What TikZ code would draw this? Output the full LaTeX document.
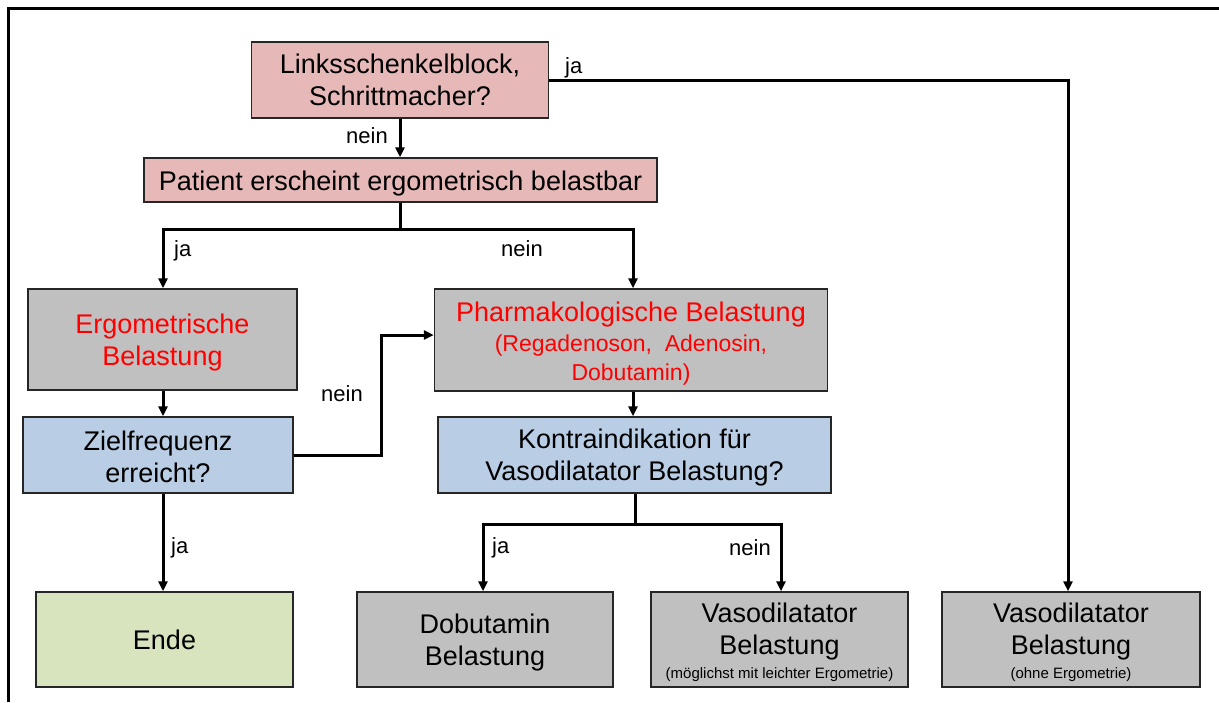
\documentclass[tikz,border=0pt]{standalone}
\usepackage{fontspec}
\setmainfont{Liberation Sans}
\usetikzlibrary{arrows.meta}
\definecolor{pinkfill}{HTML}{E6B9B8}
\definecolor{grayfill}{HTML}{C0C0C0}
\definecolor{bluefill}{HTML}{B9CDE5}
\definecolor{greenfill}{HTML}{D7E4BD}
\definecolor{redtext}{HTML}{FF0000}
\newcommand{\bigtxt}{\fontsize{27}{32}\selectfont}
\newcommand{\subtxt}{\fontsize{23}{29}\selectfont}
\newcommand{\smalltxt}{\fontsize{15}{18}\selectfont}
\newcommand{\dn}[1]{\rule{0pt}{#1pt}}
\tikzset{
  box/.style={draw=black!85, line width=1.5pt, inner sep=0pt, align=center,
    font=\bigtxt},
  pinkbox/.style={box, fill=pinkfill},
  graybox/.style={box, fill=grayfill},
  bluebox/.style={box, fill=bluefill},
  greenbox/.style={box, fill=greenfill},
  conn/.style={draw=black, line width=3pt},
  arr/.style={conn, -{Triangle[length=10pt,width=9pt]}},
  lab/.style={font=\fontsize{22}{26}\selectfont, inner sep=0pt}
}
\begin{document}
\begin{tikzpicture}[x=1pt,y=-1pt]
\useasboundingbox (0,0) rectangle (1219,702);
\draw[line width=3pt] (8,702) -- (8,8) -- (1219,8);

\node[pinkbox, minimum width=297pt, minimum height=76pt] (b1) at (400,80)
  {Linksschenkelblock,\\Schrittmacher?};
\node[pinkbox, minimum width=513pt, minimum height=44pt] (b2) at (400.5,180)
  {\dn{26}Patient erscheint ergometrisch belastbar};
\node[graybox, minimum width=269pt, minimum height=101pt, text=redtext] (b3) at (162.5,339.5)
  {\dn{26}Ergometrische\\Belastung};
\node[graybox, minimum width=393pt, minimum height=102pt, text=redtext] (b4) at (631,340)
  {\dn{27}Pharmakologische Belastung\\[-2pt]{\subtxt (Regadenoson,\ \ Adenosin,}\\[-3pt]{\subtxt Dobutamin)}};
\node[bluebox, minimum width=270pt, minimum height=76pt] (b5) at (158,455)
  {\dn{24}Zielfrequenz\\erreicht?};
\node[bluebox, minimum width=393pt, minimum height=76pt] (b6) at (634.5,455)
  {\dn{25}Kontraindikation für\\Vasodilatator Belastung?};
\node[greenbox, minimum width=257pt, minimum height=95pt] (b7) at (164.5,639.5)
  {Ende};
\node[graybox, minimum width=256pt, minimum height=95pt] (b8) at (485,639.5)
  {\dn{26}Dobutamin\\Belastung};
\node[graybox, minimum width=257pt, minimum height=95pt] (b9) at (779.5,639.5)
  {\dn{25}Vasodilatator\\Belastung\\[-8pt]{\smalltxt (möglichst mit leichter Ergometrie)}};
\node[graybox, minimum width=258pt, minimum height=95pt] (b10) at (1071,639.5)
  {\dn{25}Vasodilatator\\Belastung\\[-8pt]{\smalltxt (ohne Ergometrie)}};

% connectors
\coordinate (c1) at (1068,80);
\draw[arr] (b1.east) -- (c1) -- (c1 |- b10.north);
\node[lab, anchor=base west] (l1) at (565,73) {ja};

\draw[arr] (b1.south) -- (b1.south |- b2.north);
\node[lab, anchor=base] (l2) at (367,143) {nein};

\coordinate (j1) at (400,229);
\coordinate (ja1) at (163,229);
\coordinate (ja2) at (633,229);
\draw[conn] (j1 |- b2.south) -- (j1);
\draw[arr] (j1) -- (ja1) -- (ja1 |- b3.north);
\draw[arr] (j1) -- (ja2) -- (ja2 |- b4.north);
\node[lab, anchor=base west] (l3) at (174,256) {ja};
\node[lab, anchor=base] (l4) at (522,256) {nein};

\coordinate (k0) at (163,390);
\draw[arr] (k0 |- b3.south) -- (k0 |- b5.north);

\coordinate (k1) at (381,335);
\draw[arr] (b5.east) -| (k1) -- (k1 -| b4.west);
\node[lab, anchor=base] (l5) at (342,401) {nein};

\coordinate (k2) at (633,400);
\draw[arr] (k2 |- b4.south) -- (k2 |- b6.north);

\coordinate (k3) at (163,500);
\draw[arr] (k3 |- b5.south) -- (k3 |- b7.north);
\node[lab, anchor=base west] (l6) at (171,553) {ja};

\coordinate (j2) at (635,524);
\coordinate (jb1) at (483,524);
\coordinate (jb2) at (781,524);
\draw[conn] (b6.south -| j2) -- (j2);
\draw[arr] (j2) -- (jb1) -- (jb1 |- b8.north);
\draw[arr] (j2) -- (jb2) -- (jb2 |- b9.north);
\node[lab, anchor=base west] (l7) at (492,553) {ja};
\node[lab, anchor=base] (l8) at (750,555) {nein};
\end{tikzpicture}
\end{document}
